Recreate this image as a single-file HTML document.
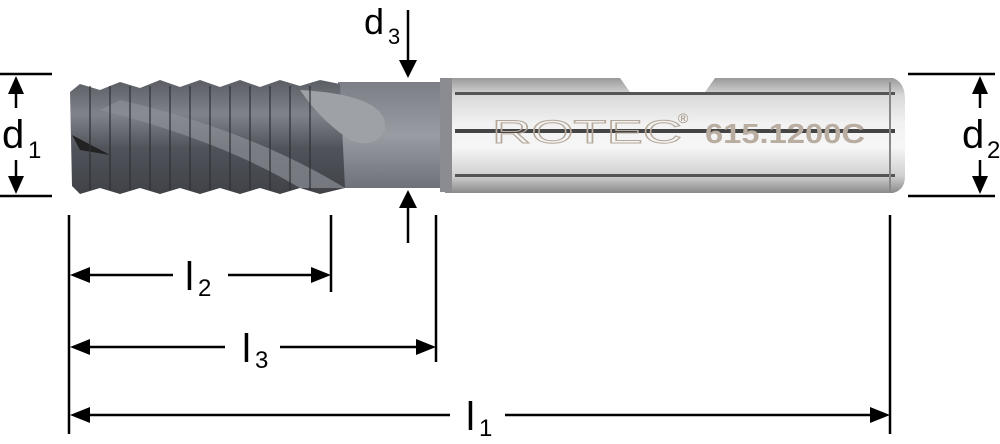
<!DOCTYPE html>
<html><head><meta charset="utf-8"><style>
html,body{margin:0;padding:0;background:#fff;width:1000px;height:444px;overflow:hidden}
svg text{font-family:"Liberation Sans",sans-serif;fill:#000}
</style></head><body>
<svg width="1000" height="444" viewBox="0 0 1000 444" xmlns="http://www.w3.org/2000/svg">
<defs>
<linearGradient id="sh" x1="0" y1="0" x2="0" y2="1">
<stop offset="0" stop-color="#9a9a9a"/><stop offset="0.15" stop-color="#d8d8d8"/>
<stop offset="0.4" stop-color="#f2f2f2"/><stop offset="0.6" stop-color="#f6f6f6"/>
<stop offset="0.85" stop-color="#d0d0d0"/><stop offset="1" stop-color="#8a8a8a"/>
</linearGradient>
<linearGradient id="fl" x1="0" y1="0" x2="0" y2="1">
<stop offset="0" stop-color="#5a5d64"/><stop offset="0.3" stop-color="#80838a"/>
<stop offset="0.6" stop-color="#50535a"/><stop offset="1" stop-color="#404248"/>
</linearGradient>
<linearGradient id="nk" x1="0" y1="0" x2="0" y2="1">
<stop offset="0" stop-color="#7b7e86"/><stop offset="0.5" stop-color="#9a9ca3"/><stop offset="1" stop-color="#6e7178"/>
</linearGradient>
</defs>
<path d="M445 78 L620 78 L630 92 L705 92 L715 78 L893 78 Q905 82 905 100 L905 176 Q905 190 893 193 L445 193 Z" fill="url(#sh)"/>
<rect x="455" y="92" width="440" height="3" fill="#555"/>
<rect x="455" y="129" width="440" height="4" fill="#444"/>
<rect x="455" y="174" width="440" height="3" fill="#555"/>
<line x1="890" y1="82" x2="890" y2="192" stroke="#888" stroke-width="2"/>
<text x="492" y="143" font-size="32" textLength="190" lengthAdjust="spacingAndGlyphs" style="fill:none" stroke="#b5a89a" stroke-width="1">ROTEC</text>
<text x="678" y="123" font-size="14" style="fill:#a09080">®</text>
<text x="705" y="143" font-size="28" textLength="160" lengthAdjust="spacingAndGlyphs" style="fill:#b8ada0" font-weight="bold">615.1200C</text>
<rect x="338" y="82" width="110" height="106" fill="url(#nk)"/>
<rect x="440" y="78" width="12" height="114" fill="#8a8c92"/>
<path d="M70 92 L80 84 L100 90 L120 82 L140 88 L160 80 L180 87 L200 80 L220 87 L240 80 L260 87 L280 80 L300 86 L320 80 L340 84 L345 188 L320 194 L300 188 L280 194 L260 188 L240 194 L220 188 L200 194 L180 188 L160 194 L140 188 L120 194 L100 188 L80 194 L72 186 Z" fill="url(#fl)"/>
<path d="M120 100 Q250 130 345 188 L300 188 Q220 140 100 110 Z" fill="#8c8f96" opacity="0.7"/>
<path d="M300 90 Q390 95 385 130 Q375 150 350 140 Q320 120 300 90Z" fill="#9ea1a6"/>
<path d="M72 135 L110 155 L80 150 Z" fill="#222"/>
<g stroke="#2e3036" stroke-width="2" opacity="0.6">
<line x1="90" y1="86" x2="90" y2="190"/><line x1="110" y1="86" x2="110" y2="190"/><line x1="130" y1="86" x2="130" y2="190"/><line x1="150" y1="86" x2="150" y2="190"/><line x1="170" y1="86" x2="170" y2="190"/><line x1="190" y1="86" x2="190" y2="190"/><line x1="210" y1="86" x2="210" y2="190"/><line x1="230" y1="86" x2="230" y2="190"/><line x1="250" y1="86" x2="250" y2="190"/><line x1="270" y1="86" x2="270" y2="190"/><line x1="290" y1="86" x2="290" y2="190"/><line x1="310" y1="86" x2="310" y2="190"/>
</g>
<g stroke="#000" stroke-width="2.5" fill="none">
<line x1="0" y1="74" x2="52" y2="74"/><line x1="0" y1="196" x2="52" y2="196"/>
<line x1="16" y1="90" x2="16" y2="108"/><line x1="16" y1="160" x2="16" y2="180"/>
<line x1="908" y1="74" x2="995" y2="74"/><line x1="908" y1="196" x2="995" y2="196"/>
<line x1="980" y1="90" x2="980" y2="108"/><line x1="980" y1="160" x2="980" y2="180"/>
<line x1="408" y1="10" x2="408" y2="62"/><line x1="408" y1="206" x2="408" y2="243"/>
<line x1="69" y1="215" x2="69" y2="434"/><line x1="331" y1="215" x2="331" y2="292"/>
<line x1="436" y1="215" x2="436" y2="362"/><line x1="890" y1="215" x2="890" y2="434"/>
<line x1="80" y1="275" x2="173" y2="275"/><line x1="228" y1="275" x2="318" y2="275"/>
<line x1="80" y1="347" x2="225" y2="347"/><line x1="280" y1="347" x2="422" y2="347"/>
<line x1="80" y1="415" x2="450" y2="415"/><line x1="505" y1="415" x2="878" y2="415"/>
</g>
<g fill="#000">
<path d="M16 76 L8 94 L24 94Z"/><path d="M16 194 L8 176 L24 176Z"/>
<path d="M980 76 L972 94 L988 94Z"/><path d="M980 194 L972 176 L988 176Z"/>
<path d="M408 78 L399 60 L417 60Z"/><path d="M408 190 L399 208 L417 208Z"/>
<path d="M70 275 L90 267 L90 283Z"/><path d="M331 275 L311 267 L311 283Z"/>
<path d="M70 347 L90 339 L90 355Z"/><path d="M436 347 L416 339 L416 355Z"/>
<path d="M70 415 L90 407 L90 423Z"/><path d="M890 415 L870 407 L870 423Z"/>
</g>
<text x="2" y="148" font-size="40">d</text><text x="28" y="158" font-size="24">1</text>
<text x="962" y="148" font-size="40">d</text><text x="987" y="158" font-size="24">2</text>
<text x="364" y="34" font-size="36">d</text><text x="388" y="44" font-size="22">3</text>
<text x="185" y="290" font-size="40">l</text><text x="198" y="296" font-size="24">2</text>
<text x="242" y="362" font-size="40">l</text><text x="255" y="368" font-size="24">3</text>
<text x="466" y="430" font-size="40">l</text><text x="479" y="436" font-size="24">1</text>
</svg>
</body></html>
